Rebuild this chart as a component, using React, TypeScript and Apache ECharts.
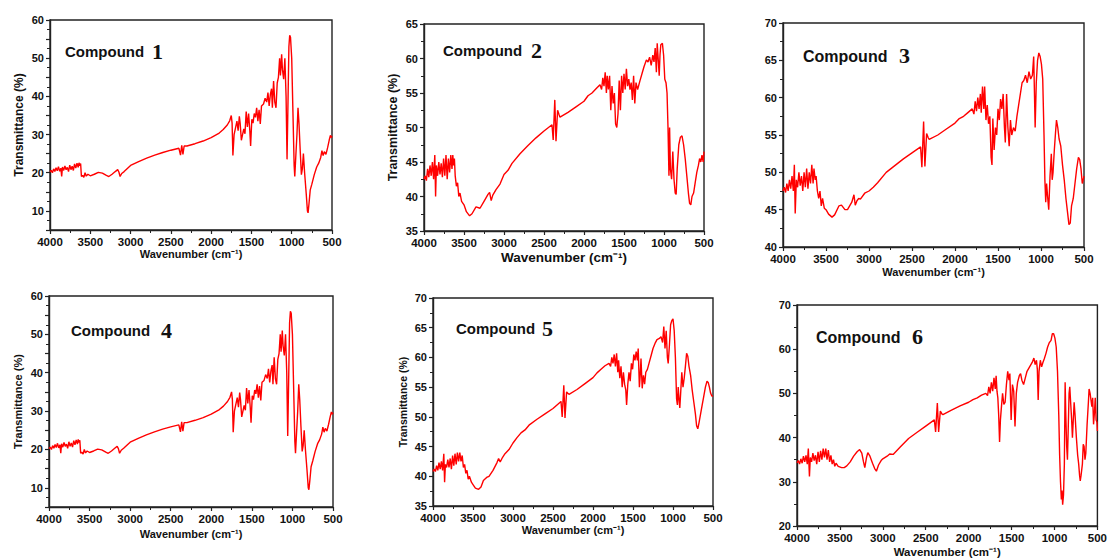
import React, { useEffect, useRef } from "react";
import * as echarts from "echarts";

// Wavenumber (cm-1) / Transmittance (%) pairs
const compound1Values: number[][] = [
  [4000,20.2],[3985,20.6],[3970,20.0],[3955,21.0],[3940,20.3],[3925,21.3],[3910,20.5],[3895,21.6],[3880,20.4],[3865,21.2],[3855,19.0],[3845,21.5],[3830,20.6],[3815,21.8],[3800,20.8],[3785,21.4],[3770,20.3],[3755,22.0],[3740,20.8],[3725,21.7],[3710,20.6],[3695,22.3],[3680,21.2],[3665,22.5],[3650,21.4],[3640,22.6],[3630,21.8],[3620,22.4],[3610,19.0],[3595,19.3],[3580,18.8],[3565,20.0],[3550,19.1],[3530,19.6],[3500,19.2],[3450,19.6],[3400,20.1],[3350,19.9],[3300,19.3],[3270,19.0],[3230,19.6],[3190,20.3],[3160,20.8],[3145,20.2],[3130,19.0],[3110,19.8],[3080,20.3],[3000,21.9],[2900,22.9],[2800,23.8],[2700,24.6],[2600,25.3],[2500,25.9],[2400,26.4],[2380,24.6],[2365,27.2],[2350,24.8],[2335,27.0],[2300,27.0],[2200,27.6],[2100,28.3],[2000,29.2],[1900,30.4],[1850,31.3],[1800,32.5],[1770,33.6],[1750,35.0],[1740,33.0],[1730,24.5],[1715,30.0],[1700,31.5],[1680,33.5],[1665,31.0],[1650,34.8],[1640,33.0],[1625,28.5],[1610,30.0],[1595,31.5],[1580,30.2],[1565,36.0],[1550,32.0],[1535,35.5],[1520,31.0],[1510,27.0],[1495,34.0],[1480,33.0],[1465,35.5],[1450,34.5],[1435,37.0],[1420,33.5],[1405,36.5],[1390,32.8],[1375,37.5],[1350,38.0],[1330,39.5],[1310,38.5],[1295,41.0],[1280,37.5],[1265,40.5],[1250,42.0],[1240,37.0],[1225,44.0],[1210,38.5],[1195,37.0],[1180,43.5],[1165,45.0],[1150,50.0],[1140,45.5],[1125,51.0],[1115,47.0],[1100,44.5],[1085,50.0],[1070,40.0],[1058,23.5],[1045,40.0],[1035,53.0],[1025,56.0],[1015,55.5],[1000,50.0],[985,36.0],[970,22.0],[962,19.0],[950,24.0],[935,30.0],[922,37.0],[910,33.0],[895,26.0],[880,19.5],[868,21.0],[855,25.0],[840,20.0],[820,14.5],[805,10.0],[797,9.5],[785,12.0],[770,15.5],[750,17.0],[720,19.5],[690,21.5],[665,22.5],[640,24.0],[625,25.8],[610,24.5],[595,25.5],[575,24.8],[555,26.5],[535,28.5],[520,29.8],[510,29.2],[500,29.6]
];

const compound2Values: number[][] = [
  [4000,42.5],[3985,43.0],[3970,42.3],[3955,44.0],[3940,42.8],[3925,44.5],[3910,43.0],[3895,45.0],[3880,42.5],[3865,46.0],[3855,40.0],[3845,44.5],[3830,43.0],[3815,45.0],[3800,43.2],[3785,44.8],[3770,42.8],[3755,45.5],[3740,43.0],[3725,46.0],[3710,42.5],[3695,45.5],[3680,43.5],[3665,46.0],[3650,44.0],[3640,46.0],[3630,44.5],[3620,45.5],[3610,43.0],[3595,41.5],[3580,42.0],[3565,40.0],[3550,40.5],[3530,39.3],[3500,38.8],[3470,37.8],[3430,37.2],[3400,37.5],[3350,38.5],[3300,38.3],[3250,39.3],[3200,40.3],[3180,40.6],[3160,39.4],[3140,40.2],[3100,41.0],[3050,41.8],[3000,43.2],[2950,43.8],[2900,44.8],[2800,46.2],[2700,47.4],[2600,48.5],[2500,49.5],[2400,50.4],[2385,48.2],[2365,54.0],[2350,48.0],[2330,52.5],[2310,51.8],[2300,51.5],[2200,52.2],[2100,53.0],[2000,53.8],[1950,54.6],[1900,55.0],[1850,55.6],[1800,56.2],[1780,55.5],[1765,57.2],[1750,56.0],[1735,58.0],[1720,55.0],[1710,57.5],[1695,55.5],[1680,57.5],[1665,52.5],[1650,56.0],[1635,53.5],[1620,55.0],[1605,50.5],[1590,50.0],[1575,52.0],[1560,56.8],[1545,52.5],[1530,57.5],[1515,55.0],[1500,57.8],[1485,55.5],[1470,58.5],[1455,56.0],[1440,57.0],[1425,55.5],[1410,56.5],[1395,54.0],[1380,57.5],[1365,53.5],[1350,56.5],[1330,55.5],[1300,56.8],[1270,58.0],[1250,58.8],[1220,59.8],[1200,59.5],[1180,60.2],[1160,59.0],[1140,60.5],[1125,59.5],[1110,61.5],[1095,58.0],[1085,62.2],[1070,59.5],[1060,57.5],[1050,60.5],[1040,62.0],[1020,62.2],[1005,60.5],[990,57.0],[975,56.5],[962,55.0],[950,50.0],[938,43.0],[930,50.0],[920,44.0],[905,42.5],[890,46.5],[875,42.5],[860,40.5],[848,40.3],[835,44.0],[815,47.5],[795,48.6],[775,48.8],[755,47.5],[735,45.5],[715,43.0],[695,40.5],[680,39.0],[665,38.8],[650,40.0],[630,40.5],[610,42.0],[590,43.5],[570,44.5],[555,45.5],[540,45.0],[525,46.0],[510,45.0],[500,46.5]
];

const compound3Values: number[][] = [
  [4000,47.5],[3985,48.0],[3970,47.3],[3955,48.5],[3940,47.5],[3925,49.0],[3910,47.8],[3895,49.5],[3880,47.5],[3868,51.0],[3858,44.5],[3845,49.0],[3830,48.0],[3815,50.0],[3800,48.2],[3785,49.5],[3770,47.5],[3755,50.0],[3740,48.0],[3725,50.5],[3710,47.8],[3695,50.0],[3680,48.5],[3665,51.0],[3650,48.5],[3640,50.5],[3625,49.0],[3615,49.5],[3600,47.5],[3585,46.5],[3570,47.5],[3555,45.5],[3540,46.5],[3520,45.2],[3500,45.0],[3470,44.4],[3430,44.0],[3400,44.3],[3350,45.5],[3320,45.6],[3280,45.0],[3250,45.0],[3200,46.0],[3175,47.0],[3160,45.6],[3140,46.2],[3120,46.5],[3100,46.4],[3050,47.2],[3000,47.5],[2950,48.0],[2900,48.6],[2800,50.0],[2700,50.9],[2600,51.8],[2500,52.6],[2400,53.4],[2385,50.7],[2365,56.8],[2350,50.8],[2330,55.2],[2310,54.6],[2300,54.4],[2200,55.0],[2100,55.8],[2000,56.6],[1950,57.2],[1900,57.5],[1850,58.0],[1800,58.5],[1780,57.8],[1765,59.5],[1750,58.2],[1735,60.0],[1720,58.5],[1705,60.5],[1695,58.0],[1680,61.5],[1665,58.5],[1655,61.5],[1640,57.0],[1625,59.0],[1610,56.5],[1595,57.5],[1580,52.0],[1570,51.0],[1560,57.2],[1545,53.0],[1530,56.0],[1515,55.0],[1500,58.5],[1485,57.0],[1470,59.8],[1455,58.5],[1440,60.5],[1425,56.0],[1415,54.0],[1400,60.5],[1385,56.0],[1370,53.5],[1355,57.0],[1340,55.0],[1320,56.0],[1300,55.5],[1280,57.5],[1260,59.0],[1240,60.5],[1220,62.0],[1200,62.3],[1180,63.0],[1160,62.0],[1140,63.5],[1120,62.5],[1100,63.0],[1085,65.5],[1075,60.0],[1068,56.0],[1055,62.0],[1040,65.0],[1025,66.0],[1010,65.5],[995,64.5],[980,62.5],[965,55.0],[955,49.0],[945,46.0],[935,48.5],[925,47.0],[910,45.0],[895,49.5],[880,52.5],[870,49.0],[860,50.0],[845,53.0],[830,55.5],[820,57.0],[805,56.0],[790,54.5],[770,53.5],[750,51.0],[730,49.0],[710,46.5],[690,44.5],[675,43.0],[660,43.2],[645,45.5],[625,46.5],[605,48.5],[585,50.5],[565,52.0],[550,51.7],[535,50.5],[520,48.5],[510,49.0],[500,49.5]
];

// Compound 4 shows the same spectrum as compound 1 in the reference
const compound4Values: number[][] = compound1Values;

const compound5Values: number[][] = [
  [4000,40.8],[3985,41.2],[3970,40.8],[3955,41.8],[3940,41.0],[3925,42.3],[3910,41.2],[3895,42.5],[3880,41.0],[3865,43.8],[3855,39.0],[3845,42.0],[3830,41.5],[3815,42.8],[3800,41.5],[3785,43.0],[3770,41.2],[3755,43.5],[3740,41.8],[3725,43.8],[3710,42.0],[3695,44.0],[3680,42.5],[3665,44.0],[3650,42.5],[3635,43.5],[3620,41.5],[3605,42.0],[3590,40.5],[3575,41.0],[3560,39.5],[3545,40.0],[3520,39.0],[3500,38.6],[3470,38.0],[3430,37.8],[3400,38.2],[3370,39.3],[3330,39.8],[3300,40.0],[3250,41.0],[3200,42.3],[3180,43.0],[3160,42.4],[3130,43.2],[3100,43.8],[3050,44.5],[3000,45.6],[2950,46.5],[2900,47.3],[2850,47.8],[2800,48.6],[2700,49.6],[2600,50.5],[2500,51.4],[2400,52.6],[2385,50.0],[2365,55.3],[2350,49.8],[2330,54.2],[2310,53.9],[2300,53.8],[2200,54.6],[2100,55.6],[2000,56.6],[1950,57.4],[1900,58.0],[1850,58.6],[1800,59.0],[1780,58.5],[1765,60.0],[1750,59.0],[1735,60.5],[1720,58.5],[1705,60.7],[1690,57.5],[1680,59.5],[1665,56.5],[1650,58.5],[1635,55.0],[1620,57.5],[1605,55.5],[1590,54.5],[1580,52.0],[1565,55.5],[1550,57.5],[1535,56.0],[1520,59.0],[1505,58.0],[1490,60.5],[1475,59.5],[1460,61.0],[1445,59.5],[1435,61.5],[1420,55.0],[1410,57.0],[1400,59.8],[1385,54.8],[1370,57.0],[1355,55.5],[1340,57.5],[1320,58.0],[1300,59.0],[1270,60.5],[1250,61.5],[1220,62.5],[1200,63.0],[1170,63.2],[1150,63.5],[1130,62.5],[1115,65.2],[1100,61.5],[1085,64.5],[1070,60.0],[1060,59.0],[1045,62.0],[1030,65.5],[1015,66.2],[1000,66.5],[985,64.5],[970,60.0],[955,53.0],[945,52.0],[935,55.0],[925,53.0],[915,51.5],[900,55.0],[890,57.5],[875,55.0],[860,56.5],[845,58.5],[830,60.7],[815,60.2],[800,58.5],[780,57.0],[760,54.5],[740,52.5],[720,50.5],[705,48.5],[690,48.0],[675,49.0],[655,50.5],[635,52.0],[615,53.5],[595,55.0],[575,56.0],[560,55.8],[545,55.0],[530,54.0],[515,53.5],[500,53.5]
];

const compound6Values: number[][] = [
  [4000,34.3],[3985,34.8],[3970,34.0],[3955,35.2],[3940,34.2],[3925,35.8],[3910,34.5],[3895,36.0],[3880,34.0],[3868,37.5],[3855,31.2],[3845,35.5],[3830,34.5],[3815,36.5],[3800,34.8],[3785,36.0],[3770,34.0],[3755,36.8],[3740,34.5],[3725,37.0],[3710,35.0],[3695,37.5],[3680,35.5],[3665,37.5],[3650,35.0],[3635,37.2],[3620,34.5],[3605,36.0],[3590,34.0],[3575,35.0],[3560,33.5],[3545,34.2],[3520,33.5],[3480,33.2],[3450,33.2],[3420,33.6],[3380,34.5],[3340,35.8],[3300,36.8],[3270,37.3],[3245,36.5],[3225,34.5],[3210,33.2],[3190,35.5],[3175,36.6],[3150,35.8],[3120,34.2],[3095,33.0],[3075,32.4],[3050,33.8],[3020,34.8],[3000,35.2],[2950,35.8],[2920,36.3],[2880,36.2],[2800,37.8],[2700,39.8],[2600,41.2],[2500,42.6],[2400,44.0],[2385,41.3],[2365,47.8],[2350,41.3],[2330,46.0],[2310,45.3],[2300,45.2],[2200,46.2],[2100,47.2],[2000,48.0],[1950,48.6],[1900,49.0],[1850,49.6],[1800,50.0],[1780,49.5],[1765,51.5],[1750,50.0],[1735,52.5],[1720,50.5],[1705,53.5],[1690,51.0],[1680,54.0],[1670,50.5],[1660,49.0],[1650,45.0],[1640,39.0],[1630,44.0],[1620,46.5],[1605,50.0],[1590,47.5],[1575,48.0],[1560,52.0],[1545,55.0],[1530,53.0],[1520,54.5],[1505,44.0],[1490,52.0],[1475,50.5],[1460,42.5],[1445,50.0],[1430,52.5],[1410,54.0],[1395,54.5],[1380,53.0],[1360,52.0],[1340,53.5],[1320,55.0],[1290,56.0],[1260,57.0],[1240,58.0],[1225,56.5],[1210,57.5],[1200,55.5],[1190,48.5],[1180,55.0],[1165,57.5],[1150,56.0],[1135,57.0],[1120,57.8],[1100,59.0],[1080,60.5],[1060,61.5],[1040,62.0],[1025,63.5],[1010,63.5],[995,62.5],[980,60.5],[965,55.0],[950,45.0],[940,36.0],[930,30.0],[920,26.0],[912,28.0],[905,24.8],[895,27.0],[885,34.0],[876,52.5],[868,45.0],[858,38.0],[849,35.0],[840,42.0],[830,50.0],[822,51.5],[812,48.0],[800,44.0],[791,40.0],[781,44.0],[771,48.0],[760,45.0],[745,40.0],[730,36.0],[718,34.0],[708,31.5],[700,30.2],[690,31.5],[675,34.0],[665,38.5],[655,38.0],[645,35.0],[635,36.5],[620,43.0],[605,48.0],[597,51.0],[585,50.0],[575,48.5],[565,47.0],[555,49.0],[545,43.0],[535,45.5],[525,49.0],[515,44.0],[505,43.5],[500,41.5]
];

const compoundNumbers = ["1", "2", "3", "4", "5", "6"];
const xAxisMin = 500;
const xAxisMax = 4000;
const xAxisInterval = 500;
const yMins = [5, 35, 40, 5, 35, 20];
const yMaxs = [60, 65, 70, 60, 70, 70];
const yIntervals = [5, 5, 5, 5, 5, 10];
const yLabelSteps = [10, 5, 5, 10, 5, 10];

const seriesValues = [compound1Values, compound2Values, compound3Values, compound4Values, compound5Values, compound6Values];

// layout (pixels) per panel
const layouts = [
  { left: 50, top: 20, width: 282, height: 210, yName: true, xNameSize: 11, yNameSize: 12, xGap: 18, yGap: 25, tx: 65, ty: 53, nx: 152, tSize: 15 },
  { left: 424, top: 24, width: 280, height: 207, yName: true, xNameSize: 13.5, yNameSize: 12.5, xGap: 19, yGap: 25, tx: 443, ty: 52, nx: 531, tSize: 15 },
  { left: 783, top: 23, width: 301, height: 224, yName: false, xNameSize: 11, yNameSize: 11, xGap: 19, yGap: 25, tx: 803, ty: 57, nx: 899, tSize: 16 },
  { left: 49, top: 296, width: 284, height: 211, yName: true, xNameSize: 11, yNameSize: 11, xGap: 21, yGap: 26, tx: 71, ty: 332, nx: 161, tSize: 15 },
  { left: 433, top: 298, width: 280, height: 208, yName: true, xNameSize: 11, yNameSize: 10.5, xGap: 17, yGap: 25, tx: 456, ty: 330, nx: 542, tSize: 15 },
  { left: 797, top: 305, width: 302, height: 224, yName: false, xNameSize: 11.5, yNameSize: 11, xGap: 20, yGap: 25, tx: 816, ty: 338, nx: 912, tSize: 16 },
];

const FONT = "'Liberation Sans', Arial, sans-serif";
const SERIF = "'Liberation Serif', 'DejaVu Serif', serif";

export default function App() {
  const ref = useRef<HTMLDivElement>(null);
  useEffect(() => {
    if (!ref.current) return;
    const chart = echarts.init(ref.current, null, { renderer: "svg" });
    const grid = layouts.map((l) => ({
      left: l.left, top: l.top, width: l.width, height: l.height,
      show: true, borderColor: "#222", borderWidth: 1.4, backgroundColor: "transparent",
      containLabel: false,
    }));
    const xAxis = layouts.map((l, i) => ({
      type: "value", gridIndex: i, min: xAxisMin, max: xAxisMax, interval: xAxisInterval, inverse: true,
      name: "Wavenumber (cm⁻¹)", nameLocation: "middle", nameGap: l.xGap,
      nameTextStyle: { fontFamily: FONT, fontWeight: "bold", fontSize: l.xNameSize, color: "#111" },
      axisLine: { show: true, lineStyle: { color: "#222", width: 1.4 } },
      axisTick: { show: true, inside: false, length: 4, lineStyle: { color: "#222", width: 1.2 } },
      minorTick: { show: true, splitNumber: 2, length: 3, lineStyle: { color: "#222", width: 1 } },
      axisLabel: {
        fontFamily: FONT, fontWeight: "bold", fontSize: 11.5, color: "#111", margin: 6,
        formatter: (v: number) => String(v),
      },
      splitLine: { show: false },
    }));
    const yAxis = layouts.map((l, i) => ({
      type: "value", gridIndex: i, min: yMins[i], max: yMaxs[i], interval: yIntervals[i],
      name: l.yName ? "Transmittance (%)" : "", nameLocation: "middle", nameGap: l.yGap, nameRotate: 90,
      nameTextStyle: { fontFamily: FONT, fontWeight: "bold", fontSize: l.yNameSize, color: "#111" },
      axisLine: { show: true, lineStyle: { color: "#222", width: 1.4 } },
      axisTick: { show: true, inside: false, length: 4, lineStyle: { color: "#222", width: 1.2 } },
      minorTick: { show: true, splitNumber: 2, length: 3, lineStyle: { color: "#222", width: 1 } },
      axisLabel: {
        fontFamily: FONT, fontWeight: "bold", fontSize: 11, color: "#111", margin: 6,
        formatter: (v: number) => (Math.round(v) % yLabelSteps[i] === 0 ? String(v) : ""),
      },
      splitLine: { show: false },
    }));
    const series = seriesValues.map((d, i) => ({
      type: "line", xAxisIndex: i, yAxisIndex: i, data: d, showSymbol: false, symbol: "none",
      lineStyle: { color: "#ff0000", width: 1.4 }, silent: true,
    }));
    const graphic: any[] = [];
    layouts.forEach((l, i) => {
      graphic.push({
        type: "text", left: l.tx, top: l.ty - 9,
        style: { text: "Compound", font: `bold ${l.tSize}px ${FONT}`, fill: "#111" },
      });
      graphic.push({
        type: "text", left: l.nx, top: l.ty - 13,
        style: { text: compoundNumbers[i], font: `bold 22px ${SERIF}`, fill: "#111" },
      });
    });
    chart.setOption({
      animation: false,
      backgroundColor: "#ffffff",
      grid, xAxis, yAxis, series, graphic,
    });
    return () => chart.dispose();
  }, []);
  return <div ref={ref} style={{ position: "fixed", left: 0, top: 0, width: 1110, height: 559 }} />;
}
